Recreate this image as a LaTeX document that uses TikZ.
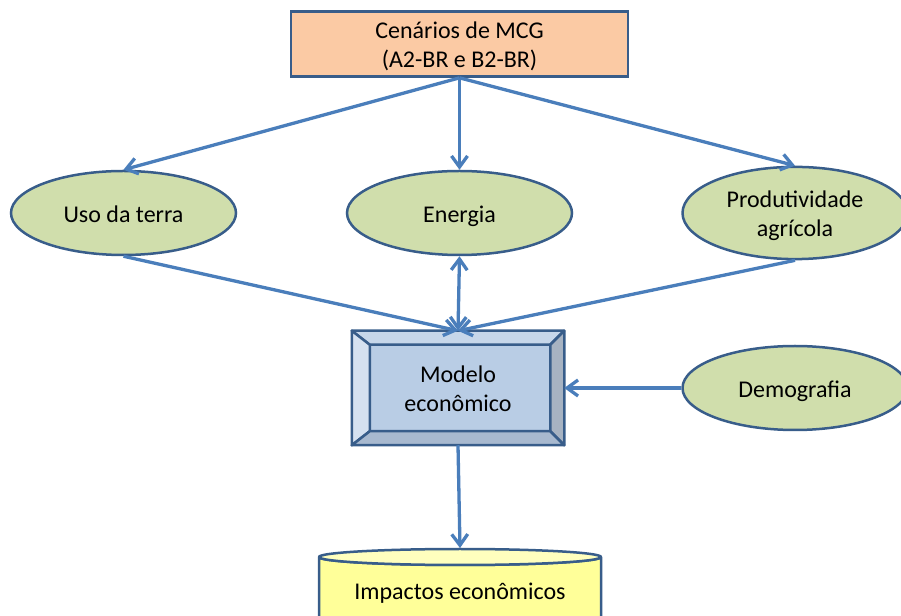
\documentclass[tikz,border=0pt]{standalone}
\usepackage{fontspec}
\setmainfont{Carlito}
\usepackage{tikz}
\usetikzlibrary{arrows.meta,shapes.geometric}
\usetikzlibrary{positioning}

\definecolor{borderblue}{RGB}{56,93,138}
\definecolor{arrowblue}{RGB}{74,126,187}
\definecolor{peach}{RGB}{251,202,164}
\definecolor{olivegreen}{RGB}{208,222,172}
\definecolor{modelfill}{RGB}{185,205,229}
\definecolor{beveltop}{RGB}{199,215,234}
\definecolor{bevelleft}{RGB}{213,225,240}
\definecolor{bevelright}{RGB}{167,179,194}
\definecolor{bevelbottom}{RGB}{168,185,207}
\definecolor{cylbody}{RGB}{255,255,153}
\definecolor{cyltop}{RGB}{255,255,190}

\newcommand{\lowstrut}{\rule{0pt}{27.5pt}}

\tikzset{
  diagramtext/.style={font=\fontsize{24}{29}\selectfont, text=black},
  scenario/.style={diagramtext, rectangle, draw=borderblue, line width=2.5pt,
    fill=peach, minimum width=337pt, minimum height=64pt, inner sep=0pt},
  factor/.style={diagramtext, ellipse, draw=borderblue, line width=2.5pt,
    fill=olivegreen, minimum width=225pt, minimum height=84pt, inner sep=0pt},
  model/.style={diagramtext, rectangle, draw=borderblue, line width=2.5pt,
    fill=modelfill, minimum width=210pt, minimum height=112pt, inner sep=0pt},
  facet/.style={draw=borderblue, line width=2.5pt, line join=round},
  link/.style={color=arrowblue, line width=3.3pt}
}

\begin{document}
\begin{tikzpicture}[->,>={Straight Barb[length=11pt,width=16pt]}, x=1pt, y=1pt]
    \useasboundingbox (0,0) rectangle (901,615);
    \clip (0,0) rectangle (901,615);

    % FIRST LAYER
    \node[scenario] (CENARIOS_MCG) at (459.5,571)
    {
      \begin{tabular}{c}
        \lowstrut Cenários de MCG \\
        (A2-BR e B2-BR)
      \end{tabular}
    };

    % SECOND LAYER
    \node[factor,
      node distance=169pt,
      below of=CENARIOS_MCG] (ENERGIA)
    {
      \begin{tabular}{c}
        \lowstrut Energia
      \end{tabular}
    };

    \node[factor,
      node distance=336pt,
      left of=ENERGIA] (USO_DA_TERRA)
    {
      \begin{tabular}{c}
        \lowstrut Uso da terra
      \end{tabular}
    };

    \node[factor,
      node distance=335.5pt,
      right of=ENERGIA] (PRODUTIVIDADE_AGRICOLA)
    {
      \begin{tabular}{c}
        \lowstrut Produtividade \\
        agrícola
      \end{tabular}
    };

    % THIRD LAYER
    \node[model,
      node distance=175pt,
      below of=ENERGIA,
      xshift=-1.5pt] (MODELO_ECONOMICO)
    {
      \begin{tabular}{c}
        \lowstrut Modelo \\
        econômico
      \end{tabular}
    };

    \node[factor,
      node distance=337pt,
      right of=MODELO_ECONOMICO] (DEMOGRAFIA)
    {
      \begin{tabular}{c}
        \lowstrut Demografia
      \end{tabular}
    };

    % BEVEL OF THE MODEL
    \filldraw[-, facet, fill=beveltop] (MODELO_ECONOMICO.north west) -- (MODELO_ECONOMICO.north east)
      -- ([shift={(-14,-14)}]MODELO_ECONOMICO.north east) -- ([shift={(18,-14)}]MODELO_ECONOMICO.north west) -- cycle;
    \filldraw[-, facet, fill=bevelleft] (MODELO_ECONOMICO.north west) -- ([shift={(18,-14)}]MODELO_ECONOMICO.north west)
      -- ([shift={(18,14)}]MODELO_ECONOMICO.south west) -- (MODELO_ECONOMICO.south west) -- cycle;
    \filldraw[-, facet, fill=bevelright] (MODELO_ECONOMICO.north east) -- ([shift={(-14,-14)}]MODELO_ECONOMICO.north east)
      -- ([shift={(-14,14)}]MODELO_ECONOMICO.south east) -- (MODELO_ECONOMICO.south east) -- cycle;
    \filldraw[-, facet, fill=bevelbottom] (MODELO_ECONOMICO.south west) -- ([shift={(18,14)}]MODELO_ECONOMICO.south west)
      -- ([shift={(-14,14)}]MODELO_ECONOMICO.south east) -- (MODELO_ECONOMICO.south east) -- cycle;

    % FOURTH LAYER
    \fill[-, cylbody] (319,-10) -- (319,58) arc[start angle=180, end angle=360, x radius=141, y radius=8] -- (601,-10) -- cycle;
    \draw[-, facet] (319,-10) -- (319,58) arc[start angle=180, end angle=360, x radius=141, y radius=8] -- (601,-10);
    \filldraw[-, facet, fill=cyltop] (460,58) ellipse [x radius=141, y radius=8];
    \coordinate (IMPACTOS_TOPO) at (460,67);

    \node[diagramtext,
      node distance=202pt,
      below of=MODELO_ECONOMICO,
      xshift=2pt] (IMPACTOS_ECONOMICOS)
    {
      \begin{tabular}{c}
        \lowstrut Impactos econômicos
      \end{tabular}
    };

    % LINES
    \path[link]
    (CENARIOS_MCG.south) edge (USO_DA_TERRA.north)
    (CENARIOS_MCG.south) edge (ENERGIA.north)
    (CENARIOS_MCG.south) edge (PRODUTIVIDADE_AGRICOLA.north)
    (USO_DA_TERRA.south) edge (MODELO_ECONOMICO.north)
    (ENERGIA.south) edge[<->] (MODELO_ECONOMICO.north)
    (PRODUTIVIDADE_AGRICOLA.south) edge (MODELO_ECONOMICO.north)
    (DEMOGRAFIA.west) edge (MODELO_ECONOMICO.east)
    (MODELO_ECONOMICO.south) edge (IMPACTOS_TOPO)
    ;
\end{tikzpicture}
\end{document}
